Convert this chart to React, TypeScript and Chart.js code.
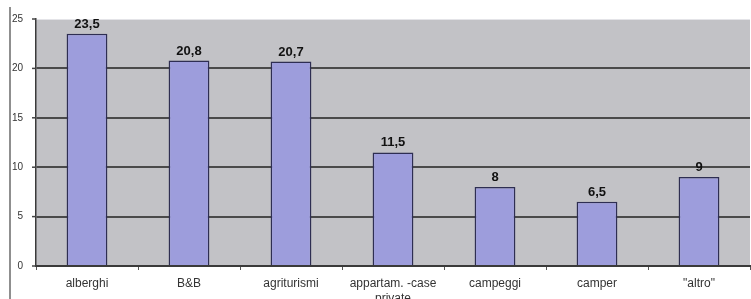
import React, { useEffect, useRef } from "react";
import { Chart, registerables } from "chart.js";

Chart.register(...registerables);

const categories: (string | string[])[] = [
  "alberghi",
  "B&B",
  "agriturismi",
  ["appartam. -case", "private"],
  "campeggi",
  "camper",
  "\"altro\"",
];
const values: number[] = [23.5, 20.8, 20.7, 11.5, 8, 6.5, 9];
const yTicks: number[] = [0, 5, 10, 15, 20, 25];

const FONT = "'Liberation Sans', Arial, sans-serif";

const bgPlugin = {
  id: "plotBg",
  beforeDraw(chart: any) {
    const { ctx, chartArea: a } = chart;
    ctx.save();
    ctx.fillStyle = "#c2c2c6";
    ctx.fillRect(a.left, a.top, a.right - a.left, a.bottom - a.top);
    ctx.strokeStyle = "#e4e4e8";
    ctx.lineWidth = 1;
    ctx.beginPath();
    ctx.moveTo(a.left, a.top + 0.5);
    ctx.lineTo(a.right, a.top + 0.5);
    ctx.stroke();
    ctx.restore();
  },
  afterDraw(chart: any) {
    const { ctx } = chart;
    ctx.save();
    ctx.strokeStyle = "#6a6a6a";
    ctx.lineWidth = 1.5;
    ctx.beginPath();
    ctx.moveTo(10, 7);
    ctx.lineTo(10, 299);
    ctx.stroke();
    ctx.restore();
  },
};

const labelPlugin = {
  id: "valueLabels",
  afterDatasetsDraw(chart: any) {
    const { ctx } = chart;
    const meta = chart.getDatasetMeta(0);
    ctx.save();
    ctx.font = `bold 13px ${FONT}`;
    ctx.fillStyle = "#111";
    ctx.textAlign = "center";
    ctx.textBaseline = "bottom";
    meta.data.forEach((el: any, i: number) => {
      const txt = String(values[i]).replace(".", ",");
      ctx.fillText(txt, el.x, el.y - 3);
    });
    ctx.restore();
  },
};

export default function App() {
  const ref = useRef<HTMLCanvasElement>(null);
  useEffect(() => {
    document.body.style.margin = "0";
    const chart = new Chart(ref.current!, {
      type: "bar",
      data: {
        labels: categories,
        datasets: [
          {
            data: values,
            backgroundColor: "#9d9ddc",
            borderColor: "#2e2e52",
            borderWidth: 1.5,
            barPercentage: 0.4,
            categoryPercentage: 1,
          },
        ],
      },
      options: {
        animation: false,
        responsive: false,
        layout: { padding: { top: 19, right: 1, left: 0, bottom: 0 } },
        plugins: { legend: { display: false }, tooltip: { enabled: false } },
        scales: {
          x: {
            offset: true,
            grid: {
              offset: true,
              drawOnChartArea: false,
              drawTicks: true,
              tickLength: 4,
              color: "#555",
            },
            border: { color: "#3a3a3a", width: 2 },
            ticks: {
              font: { family: FONT, size: 12, lineHeight: 1.25 },
              color: "#333",
              padding: 6,
              maxRotation: 0,
              autoSkip: false,
            },
            afterFit(scale: any) {
              scale.height = 33;
            },
          },
          y: {
            min: 0,
            max: 25,
            afterBuildTicks(scale: any) {
              scale.ticks = yTicks.map((v) => ({ value: v }));
            },
            grid: {
              color: (c: any) =>
                c.tick && (c.tick.value === 25 || c.tick.value === 0) ? "rgba(0,0,0,0)" : "#4a4a4a",
              lineWidth: 2,
              drawTicks: false,
            },
            border: { color: "#3a3a3a", width: 1.5 },
            ticks: {
              font: { family: FONT, size: 10 },
              color: "#333",
              padding: 13,
            },
            afterFit(scale: any) {
              scale.width = 36;
            },
          },
        },
      },
      plugins: [bgPlugin, labelPlugin, {
        id: "yTickMarks",
        afterDraw(chart: any) {
          const { ctx } = chart;
          const y = chart.scales.y;
          ctx.save();
          ctx.strokeStyle = "#444";
          ctx.lineWidth = 1.5;
          yTicks.forEach((v) => {
            const py = y.getPixelForValue(v);
            ctx.beginPath();
            ctx.moveTo(y.right - 4, py);
            ctx.lineTo(y.right, py);
            ctx.stroke();
          });
          ctx.restore();
        },
      }],
    });
    return () => chart.destroy();
  }, []);
  return <canvas ref={ref} width={751} height={299} style={{ display: "block" }} />;
}
